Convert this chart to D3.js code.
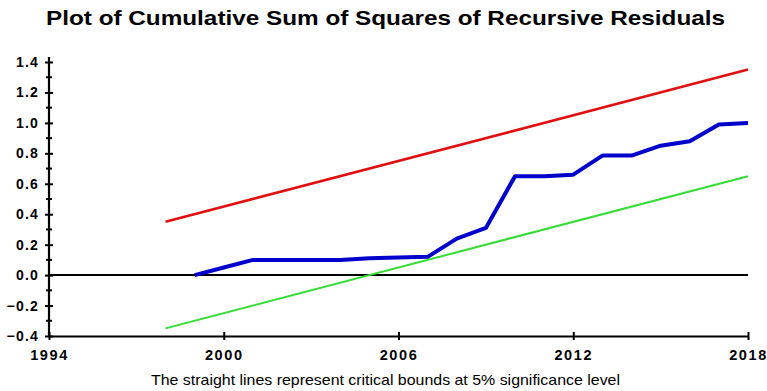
<!DOCTYPE html>
<html>
<head>
<meta charset="utf-8">
<script src="https://cdn.jsdelivr.net/npm/d3@7"></script>
<style>
  body { margin: 0; background: #fff; }
  svg { display: block; }
</style>
</head>
<body>
<svg id="chart" width="767" height="391"></svg>
<script>
// CUSUM of squares of recursive residuals, with 5% critical bounds
const years = [1999, 2000, 2001, 2002, 2003, 2004, 2005, 2006, 2007, 2008, 2009,
               2010, 2011, 2012, 2013, 2014, 2015, 2016, 2017, 2018];
const cusumsq = [0.00, 0.05, 0.10, 0.10, 0.10, 0.10, 0.11, 0.115, 0.12, 0.24, 0.31,
                 0.65, 0.65, 0.66, 0.785, 0.785, 0.85, 0.88, 0.99, 1.00];
const boundYears = [1998, 2018];
const upperBound = [0.35, 1.35];
const lowerBound = [-0.35, 0.65];
const xTicks = [1994, 2000, 2006, 2012, 2018];
const yTicks = [-0.4, -0.2, 0.0, 0.2, 0.4, 0.6, 0.8, 1.0, 1.2, 1.4];
const yMinorTicks = [-0.3, -0.1, 0.1, 0.3, 0.5, 0.7, 0.9, 1.1, 1.3];

const FONT = "Liberation Sans, Arial, sans-serif";
const svg = d3.select("#chart");
const x = d3.scaleLinear().domain([1994, 2018]).range([49, 748]);
const y = d3.scaleLinear().domain([-0.4, 1.4]).range([336, 62]);

// title
svg.append("text")
  .attr("x", 46).attr("y", 25)
  .attr("textLength", 679).attr("lengthAdjust", "spacingAndGlyphs")
  .attr("font-family", FONT)
  .attr("font-weight", "bold")
  .attr("font-size", 21)
  .attr("fill", "#000")
  .text("Plot of Cumulative Sum of Squares of Recursive Residuals");

// zero line
svg.append("line")
  .attr("x1", x(1994)).attr("x2", x(2018))
  .attr("y1", y(0)).attr("y2", y(0))
  .attr("stroke", "#000").attr("stroke-width", 2);

// bottom axis
const xAxis = svg.append("g")
  .attr("transform", `translate(0,${y(-0.4)})`)
  .call(d3.axisBottom(x).tickValues(xTicks).tickFormat(d3.format("d"))
    .tickSizeInner(4).tickSizeOuter(0).tickPadding(10));
xAxis.select(".domain").attr("stroke", "#000").attr("stroke-width", 2.2);
xAxis.selectAll(".tick line").attr("stroke-width", 2).attr("y1", -4);
xAxis.selectAll("text")
  .attr("font-family", FONT)
  .attr("font-weight", "bold").attr("font-size", 14.5)
  .attr("letter-spacing", 1.6).attr("fill", "#000");

// left axis
const yAxis = svg.append("g")
  .attr("transform", `translate(${x(1994)},0)`)
  .call(d3.axisLeft(y).tickValues(yTicks).tickFormat(d3.format(".1f"))
    .tickSizeInner(4).tickSizeOuter(0).tickPadding(6));
yAxis.select(".domain").attr("stroke", "#000").attr("stroke-width", 2.2)
  .attr("d", `M0,${y(1.4) - 5}V${y(-0.4)}`);
yAxis.selectAll(".tick line").attr("stroke-width", 2).attr("x2", 4).attr("x1", -4);
yAxis.selectAll("text")
  .attr("font-family", FONT)
  .attr("font-weight", "bold").attr("font-size", 14)
  .attr("letter-spacing", 1.2).attr("fill", "#000");
yAxis.selectAll(".minor").data(yMinorTicks).enter().append("line")
  .attr("class", "minor")
  .attr("x1", -3).attr("x2", 3)
  .attr("y1", d => y(d)).attr("y2", d => y(d))
  .attr("stroke", "#000").attr("stroke-width", 2);

const line = d3.line().x(d => x(d[0])).y(d => y(d[1]));

// critical bounds
svg.append("path")
  .datum(boundYears.map((yr, i) => [yr, upperBound[i]]))
  .attr("d", line).attr("fill", "none")
  .attr("stroke", "#e01010").attr("stroke-width", 2.6);
svg.append("path")
  .datum(boundYears.map((yr, i) => [yr, lowerBound[i]]))
  .attr("d", line).attr("fill", "none")
  .attr("stroke", "#33dd33").attr("stroke-width", 2);

// CUSUM of squares
svg.append("path")
  .datum(years.map((yr, i) => [yr, cusumsq[i]]))
  .attr("d", line).attr("fill", "none")
  .attr("stroke", "#0000cc").attr("stroke-width", 4)
  .attr("stroke-linejoin", "round");

// caption
svg.append("text")
  .attr("x", 151).attr("y", 385)
  .attr("textLength", 469).attr("lengthAdjust", "spacingAndGlyphs")
  .attr("font-family", FONT)
  .attr("font-size", 14.5)
  .attr("fill", "#000")
  .text("The straight lines represent critical bounds at 5% significance level");
</script>
</body>
</html>
